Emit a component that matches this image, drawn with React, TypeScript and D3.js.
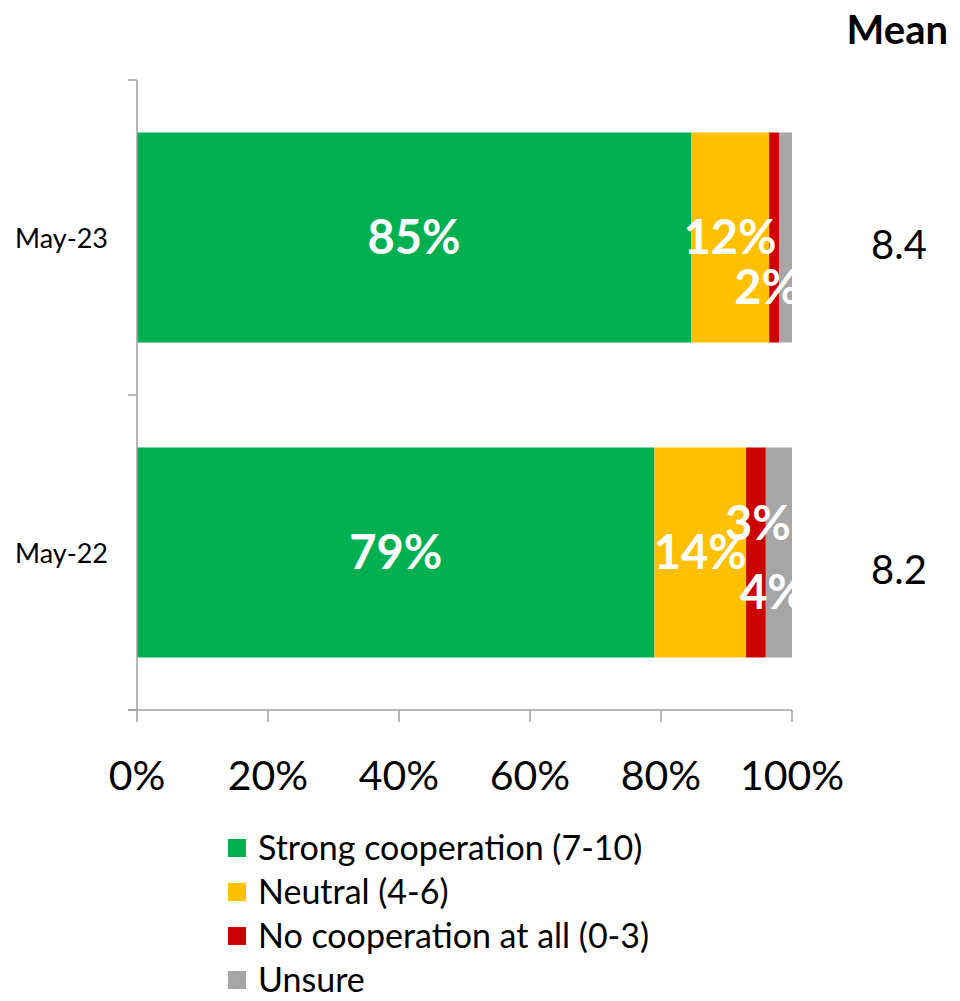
import React from "react";
import * as d3 from "d3";

const categories = ["May-23", "May-22"];
const seriesNames = ["Strong cooperation (7-10)", "Neutral (4-6)", "No cooperation at all (0-3)", "Unsure"];
const strongValues = [85, 79];
const neutralValues = [12, 14];
const noCoopValues = [1.5, 3];
const unsureValues = [2, 4];
const meanValues = ["8.4", "8.2"];
const xTicks = [0, 0.2, 0.4, 0.6, 0.8, 1];

const colors = ["#00b050", "#ffc000", "#cc0000", "#a6a6a6"];
const keys = ["strong", "neutral", "nocoop", "unsure"];

// label placement tweaks (styling)
const labelOffsets: Record<string, [number, number]> = {
  "May-23|nocoop": [-7, 50],
  "May-22|nocoop": [2, -29],
  "May-22|unsure": [-6, 40],
};
const hiddenLabels = new Set(["May-23|unsure"]);
const meanDy = [7, 17];

const W = 960;
const H = 1001;
const plotLeft = 137;
const plotRight = 792;
const plotTop = 80;
const plotBottom = 710;
const FONT = "Lato, 'Open Sans', sans-serif";

export default function App() {
  const rows = categories.map((c, i) => ({
    cat: c,
    strong: strongValues[i],
    neutral: neutralValues[i],
    nocoop: noCoopValues[i],
    unsure: unsureValues[i],
  }));
  const stack = d3.stack<any>().keys(keys).offset(d3.stackOffsetExpand);
  const series = stack(rows);

  const x = d3.scaleLinear().domain([0, 1]).range([plotLeft, plotRight]);
  const y = d3
    .scaleBand()
    .domain(categories)
    .range([plotTop, plotBottom])
    .paddingInner(1 / 3)
    .paddingOuter(1 / 6);
  const bw = y.bandwidth();
  const bandEdges = [plotTop, (plotTop + plotBottom) / 2, plotBottom];

  return (
    <svg width={W} height={H} style={{ position: "absolute", left: 0, top: 0 }} fontFamily={FONT}>
      <defs>
        <clipPath id="plotClip">
          <rect x={0} y={0} width={plotRight + 1} height={H} />
        </clipPath>
      </defs>
      {/* bars */}
      {series.map((s, si) => (
        <g key={s.key} fill={colors[si]}>
          {s.map((d: any) => (
            <rect
              key={d.data.cat}
              x={x(d[0])}
              y={y(d.data.cat)}
              width={x(d[1]) - x(d[0])}
              height={bw}
            />
          ))}
        </g>
      ))}
      {/* axes */}
      <g stroke="#a0a0a0" strokeWidth={1.5} fill="none">
        <line x1={plotLeft} x2={plotLeft} y1={plotTop} y2={plotBottom} />
        {bandEdges.map((e, i) => (
          <line key={i} x1={plotLeft - 9} x2={plotLeft} y1={e} y2={e} />
        ))}
        <line x1={plotLeft - 9} x2={plotRight} y1={plotBottom} y2={plotBottom} />
        {xTicks.map((t) => (
          <line key={t} x1={x(t)} x2={x(t)} y1={plotBottom} y2={plotBottom + 12} />
        ))}
      </g>
      {xTicks.map((t) => (
        <text key={t} x={x(t)} y={plotBottom + 80} textAnchor="middle" fontSize={41} fill="#000">
          {Math.round(t * 100) + "%"}
        </text>
      ))}
      {/* category labels */}
      {categories.map((c) => (
        <text key={c} x={108} y={(y(c) as number) + bw / 2 + 10} textAnchor="end" fontSize={27} fill="#000">
          {c}
        </text>
      ))}
      {/* data labels */}
      <g clipPath="url(#plotClip)">
        {series.map((s, si) =>
          s.map((d: any) => {
            const id = d.data.cat + "|" + s.key;
            if (hiddenLabels.has(id)) return null;
            const off = labelOffsets[id] || [0, 0];
            const cx = (x(d[0]) + x(d[1])) / 2 + off[0];
            const cy = (y(d.data.cat) as number) + bw / 2 + off[1];
            return (
              <text
                key={id}
                x={cx}
                y={cy + 16}
                textAnchor="middle"
                fontSize={47}
                fontWeight="bold"
                fill="#fff"
              >
                {Math.round(d.data[s.key]) + "%"}
              </text>
            );
          })
        )}
      </g>
      {/* mean */}
      <text x={948} y={44} textAnchor="end" fontSize={40} fontWeight="bold" fill="#000">
        Mean
      </text>
      {categories.map((c, i) => (
        <text
          key={c}
          x={899}
          y={(y(c) as number) + bw / 2 + meanDy[i] + 14}
          textAnchor="middle"
          fontSize={40}
          fill="#000"
        >
          {meanValues[i]}
        </text>
      ))}
      {/* legend */}
      {seriesNames.map((n, i) => (
        <g key={n} transform={`translate(228, ${848 + i * 44})`}>
          <rect x={0} y={-9} width={18} height={18} fill={colors[i]} />
          <text x={30} y={12} fontSize={34} fill="#000">
            {n}
          </text>
        </g>
      ))}
    </svg>
  );
}
